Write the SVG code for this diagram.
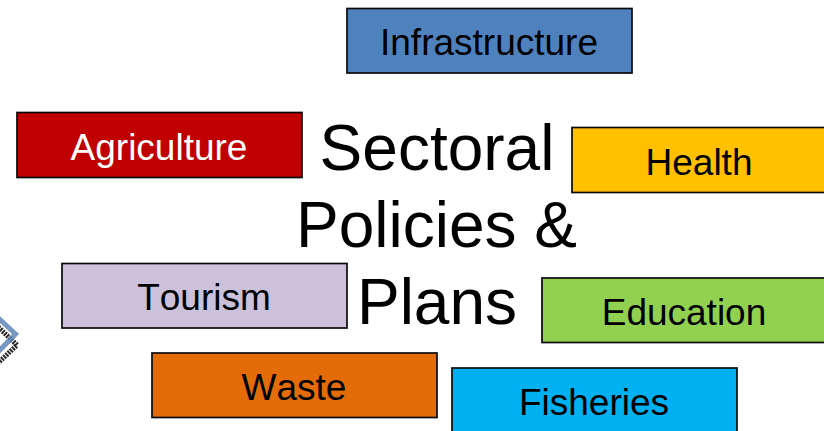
<svg xmlns="http://www.w3.org/2000/svg" width="824" height="431" viewBox="0 0 824 431">
<style>
text{font-family:"Liberation Sans",Arial,sans-serif;text-anchor:middle;fill:#000;font-kerning:none}
.l{font-size:37px}
.t{font-size:64px}
rect{stroke:#0a0a0a;stroke-width:1.7}
</style>
<rect width="824" height="431" fill="#fff" style="stroke:none"/>
<g id="chevron" fill="none">
<path d="M-4 325L17 345L-4 365" stroke="#2a2a2a" stroke-width="5" stroke-dasharray="2 1"/>
<path d="M-4 316L15.500 334L-4 354" stroke="#5f86b8" stroke-width="5" opacity="0.85"/>
</g>
<g id="infrastructure"><rect x="347" y="8.500" width="285" height="64.500" fill="#4f81bd"/><text class="l" x="489" y="55">Infrastructure</text></g>
<g id="agriculture"><rect x="17" y="112.500" width="285" height="65" fill="#c00000"/><text class="l" x="159" y="160" style="fill:#fff">Agriculture</text></g>
<g id="health"><rect x="572" y="127.500" width="270" height="65" fill="#ffc000"/><text class="l" x="699" y="175">Health</text></g>
<g id="tourism"><rect x="62" y="263.500" width="285" height="64.500" fill="#ccc1da"/><text class="l" x="204" y="310">Tourism</text></g>
<g id="education"><rect x="542" y="278" width="300" height="64.500" fill="#92d050"/><text class="l" x="684" y="325">Education</text></g>
<g id="waste"><rect x="152" y="353" width="285" height="64.500" fill="#e36c09"/><text class="l" x="294" y="400">Waste</text></g>
<g id="fisheries"><rect x="452" y="368" width="285" height="70" fill="#00b0f0"/><text class="l" x="594" y="415">Fisheries</text></g>
<g id="title"><text class="t" x="437" y="170">Sectoral</text><text class="t" x="436.500" y="247">Policies &amp;</text><text class="t" x="437" y="324">Plans</text></g>
</svg>
